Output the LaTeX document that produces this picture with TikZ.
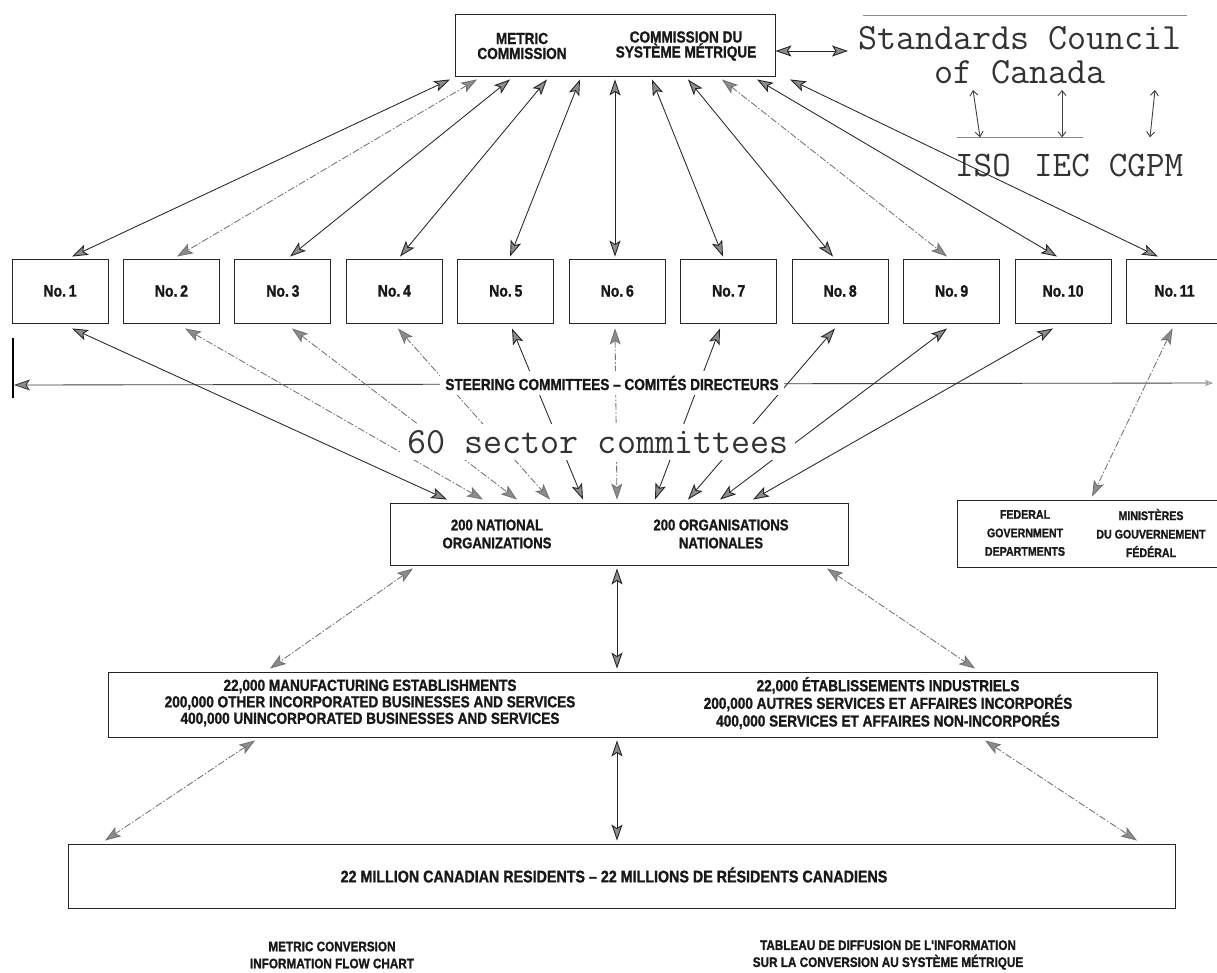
\documentclass[tikz,border=0pt]{standalone}
\usepackage{fontspec}
\newfontfamily\cond{Liberation Sans}[FakeStretch=0.85, BoldFeatures={FakeBold=1.2}]
\usetikzlibrary{arrows.meta}
\tikzset{
  gt/.tip={Stealth[length=16pt,width=11pt,inset=3.5pt,fill=black!45,line width=0.9pt]},
  box/.style={draw=black!85, line width=0.9pt, inner sep=0pt},
  lab/.style={font=\cond\bfseries\fontsize{#1}{#1}\selectfont, align=center, inner sep=0pt, text=black!90},
  tw/.style={font=\ttfamily\addfontfeature{FakeBold=1.5}\fontsize{37}{34}\selectfont, align=center, inner sep=0pt, text=black!80},
  arr/.style={line width=0.85pt, draw=black!85, gt-gt},
  sarr/.style={line width=0.9pt, draw=black!75, {Straight Barb[length=5pt,width=8pt]}-{Straight Barb[length=5pt,width=8pt]}},
  sol/.style={},
  fnt/.style={draw=black!55, dash pattern=on 7pt off 2pt on 1.5pt off 2pt},
  blank/.style={fill=white, inner sep=5pt},
}
\begin{document}
\begin{tikzpicture}[x=1pt,y=-1pt]
\useasboundingbox (0,0) rectangle (1217,972);
\fill[white] (0,0) rectangle (1217,972);

% top box
\node[box, minimum width=320pt, minimum height=62pt] (top) at (615,45) {};
\node[lab=16, font=\cond\bfseries\fontsize{16}{15}\selectfont] (topL) at (522,46) {METRIC\\COMMISSION};
\node[lab=16, font=\cond\bfseries\fontsize{16}{15}\selectfont] (topR) at (686,46) {COMMISSION DU\\SYSTÈME MÉTRIQUE};

% Standards Council
\node[tw] (scc) at (1020,55) {Standards Council\\of Canada};
\coordinate (sccin) at (848,51);
\draw[arr] ([yshift=-6pt]top.east) -- (sccin);
\draw[black!45, line width=0.6pt] (863,15) -- (1187,15);
\node[tw, font=\ttfamily\addfontfeature{FakeBold=1.5}\fontsize{36}{34}\selectfont] (iso) at (983,165) {ISO};
\node[tw, font=\ttfamily\addfontfeature{FakeBold=1.5}\fontsize{36}{34}\selectfont] (iec) at (1062,165) {IEC};
\node[tw, font=\ttfamily\addfontfeature{FakeBold=1.5}\fontsize{36}{34}\selectfont] (cgpm) at (1146,165) {CGPM};
\draw[black!45, line width=0.6pt] (957,137) -- (1083,137);
\draw[sarr] ([xshift=-47pt,yshift=-6pt]scc.south) -- ([xshift=-3pt,yshift=16pt]iso.north);
\draw[sarr] ([xshift=42pt,yshift=-6pt]scc.south) -- ([yshift=16pt]iec.north);
\draw[sarr] ([xshift=135pt,yshift=-6pt]scc.south) -- ([xshift=4pt,yshift=16pt]cgpm.north);

% committees
\foreach \i in {1,...,11}{
  \pgfmathsetmacro\cx{60+111.45*(\i-1)}
  \node[box, minimum width=96pt, minimum height=64pt, lab=16.5] (c\i) at (\cx,291) {No.\,\i};
}

% national, federal, industry, residents
\node[box, minimum width=458pt, minimum height=62pt] (nat) at (619,534) {};
\node[lab=15.4, font=\cond\bfseries\fontsize{15.4}{18}\selectfont] (natL) at (497,534) {200 NATIONAL\\ORGANIZATIONS};
\node[lab=15.4, font=\cond\bfseries\fontsize{15.4}{18}\selectfont] (natR) at (721,534) {200 ORGANISATIONS\\NATIONALES};

\node[box, minimum width=275pt, minimum height=67pt] (fed) at (1094.5,533.5) {};
\node[lab=12.5, font=\cond\bfseries\fontsize{12.5}{18.5}\selectfont] (fedL) at (1025,533) {FEDERAL\\GOVERNMENT\\DEPARTMENTS};
\node[lab=12.5, font=\cond\bfseries\fontsize{12.5}{18.5}\selectfont] (fedR) at (1151,533) {MINISTÈRES\\DU GOUVERNEMENT\\FÉDÉRAL};

\node[box, minimum width=1049pt, minimum height=65pt] (ind) at (632.5,704.5) {};
\node[lab=16, font=\cond\bfseries\fontsize{16}{16.5}\selectfont] (indL) at (370,703) {22,000 MANUFACTURING ESTABLISHMENTS\\200,000 OTHER INCORPORATED BUSINESSES AND SERVICES\\400,000 UNINCORPORATED BUSINESSES AND SERVICES};
\node[lab=16, font=\cond\bfseries\fontsize{16}{16.5}\selectfont] (indR) at (888,703) {22,000 ÉTABLISSEMENTS INDUSTRIELS\\200,000 AUTRES SERVICES ET AFFAIRES INCORPORÉS\\400,000 SERVICES ET AFFAIRES NON-INCORPORÉS};

\node[box, minimum width=1107pt, minimum height=64pt] (res) at (621.5,876) {};
\node[lab=16.8] (resT) at (614,875) {22 MILLION CANADIAN RESIDENTS – 22 MILLIONS DE RÉSIDENTS CANADIENS};

% top arrows
\foreach \i/\tx/\cx/\st in {1/450/72/sol,2/477/177/fnt,3/510/290/sol,4/547/400/sol,5/580/510/sol,6/615/615/sol,7/652/723/sol,8/688/833/sol,9/722/947/fnt,10/757/1057/sol,11/790/1158/sol}{
  \pgfmathsetmacro\dt{\tx-615}
  \pgfmathsetmacro\dc{\cx-(60+111.45*(\i-1))}
  \draw[arr,\st] ([xshift=\dt pt,yshift=-3pt]top.south) -- ([xshift=\dc pt,yshift=2pt]c\i.north);
}

% steering line
\coordinate (barT) at (13,338);
\coordinate (barB) at (13,398);
\coordinate (stL) at (14,385);
\coordinate (stR) at (1213,383);
\draw[line width=1.1pt] (barT) -- (barB);
\draw[line width=0.85pt, draw=black!75, gt-{Stealth[length=8pt,width=6pt,inset=2pt,fill=gray!30,color=black!40]}] (stL) -- (stR);

% committee -> national
\foreach \i/\cb/\nt/\st in {1/72/447/sol,2/185/483/fnt,3/292/517/fnt,4/398/550/fnt,5/512/583/sol,6/615/617/fnt,7/720/655/sol,8/835/688/sol,9/947/720/sol,10/1053/753/sol}{
  \pgfmathsetmacro\dc{\cb-(60+111.45*(\i-1))}
  \pgfmathsetmacro\dn{\nt-619}
  \draw[arr,\st] ([xshift=\dc pt,yshift=-5pt]c\i.south) -- ([xshift=\dn pt,yshift=3pt]nat.north);
}
\draw[arr,fnt] ([xshift=-2pt,yshift=-5pt]c11.south) -- ([xshift=-2.5pt,yshift=3pt]fed.north);

% labels over lines
\node[lab=16, blank] (steer) at (612,383) {STEERING COMMITTEES – COMITÉS DIRECTEURS};
\node[tw, blank, inner sep=6pt] (sector) at (598,442) {60 sector committees};

% national -> industry
\draw[arr,fnt] ([xshift=-206pt,yshift=-3pt]nat.south) -- ([xshift=-362.5pt,yshift=3pt]ind.north);
\draw[arr] ([xshift=-2pt,yshift=-3pt]nat.south) -- ([xshift=-15.5pt,yshift=3pt]ind.north);
\draw[arr,fnt] ([xshift=208pt,yshift=-3pt]nat.south) -- ([xshift=342.5pt,yshift=3pt]ind.north);

% industry -> residents
\draw[arr,fnt] ([xshift=-377.5pt,yshift=-3pt]ind.south) -- ([xshift=-516.5pt,yshift=3pt]res.north);
\draw[arr] ([xshift=-15.5pt,yshift=-3pt]ind.south) -- ([xshift=-4.5pt,yshift=3pt]res.north);
\draw[arr,fnt] ([xshift=352.5pt,yshift=-3pt]ind.south) -- ([xshift=515.5pt,yshift=3pt]res.north);

% captions
\node[lab=13.8, font=\cond\bfseries\fontsize{13.8}{17}\selectfont] (capL) at (332,955) {METRIC CONVERSION\\INFORMATION FLOW CHART};
\node[lab=13.8, font=\cond\bfseries\fontsize{13.8}{17}\selectfont] (capR) at (888,955) {TABLEAU DE DIFFUSION DE L'INFORMATION\\SUR LA CONVERSION AU SYSTÈME MÉTRIQUE};
\end{tikzpicture}
\end{document}
